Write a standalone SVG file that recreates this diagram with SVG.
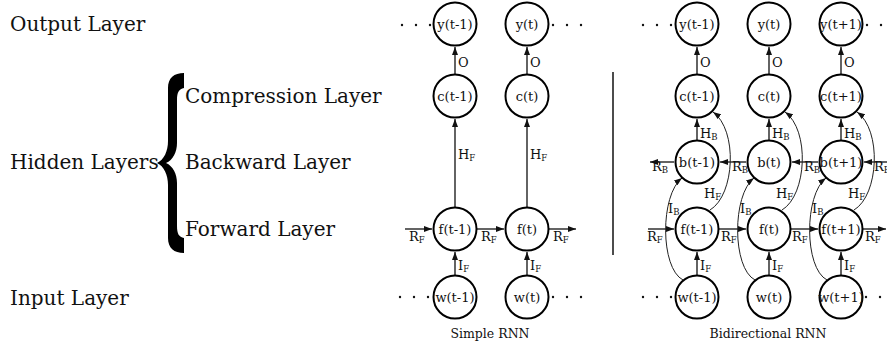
<svg xmlns="http://www.w3.org/2000/svg" width="887" height="349" viewBox="0 0 887 349">
<defs>
<marker id="ah" viewBox="0 0 8 6" refX="8" refY="3" markerWidth="8" markerHeight="6" markerUnits="userSpaceOnUse" orient="auto"><path d="M0,0 L8,3 L0,6 z" fill="#111"/></marker>
<style>
text{font-family:"DejaVu Serif",serif;fill:#111}
.big{font-size:20px}
.nd circle{fill:#fff;stroke:#000;stroke-width:2}
.nd text{font-size:13px;text-anchor:middle}
.e{stroke:#222;stroke-width:1.4;fill:none;marker-end:url(#ah)}
.cv{stroke:#222;stroke-width:1;fill:none;marker-end:url(#ah)}
.lb{font-size:13px}
.sub{font-size:8.5px}
.cap{font-size:12.5px;text-anchor:middle}
.dot{fill:#111}
</style>
</defs>
<rect width="887" height="349" fill="#fff"/>
<g id="layer-labels">
<text class="big" x="10" y="31">Output Layer</text>
<text class="big" x="185" y="103">Compression Layer</text>
<text class="big" x="10" y="169">Hidden Layers</text>
<text class="big" x="185" y="169">Backward Layer</text>
<text class="big" x="185" y="236">Forward Layer</text>
<text class="big" x="10" y="305">Input Layer</text>
<path id="brace" d="M184 73 L184 88 C179 89 177 92 177 100 L177 143 C177 152 173 160 166 163 C173 166 177 174 177 183 L177 226 C177 234 179 237 184 238 L184 253 C174 253 168 248 168 238 L168 185 C168 175 164 166 157 163 C164 160 168 151 168 141 L168 88 C168 78 174 73 184 73 Z" fill="#000"/>
</g>
<g id="connectors">
<path class="e" d="M455 74 L455 47"/>
<path class="e" d="M527 74 L527 47"/>
<path class="e" d="M455 207 L455 119"/>
<path class="e" d="M527 207 L527 119"/>
<path class="e" d="M455 275 L455 252"/>
<path class="e" d="M527 275 L527 252"/>
<path class="e" d="M405 229 L432 229"/>
<path class="e" d="M477 229 L504 229"/>
<path class="e" d="M549 229 L576 229"/>
<path class="e" d="M697 74 L697 47"/>
<path class="e" d="M769 74 L769 47"/>
<path class="e" d="M841 74 L841 47"/>
<path class="e" d="M697 140 L697 119"/>
<path class="e" d="M769 140 L769 119"/>
<path class="e" d="M841 140 L841 119"/>
<path class="e" d="M697 275 L697 252"/>
<path class="e" d="M769 275 L769 252"/>
<path class="e" d="M841 275 L841 252"/>
<path class="e" d="M648 229 L674 229"/>
<path class="e" d="M719 229 L746 229"/>
<path class="e" d="M791 229 L818 229"/>
<path class="e" d="M863 229 L886 229"/>
<path class="e" d="M674 162 L650 162"/>
<path class="e" d="M746 162 L720 162"/>
<path class="e" d="M818 162 L792 162"/>
<path class="e" d="M887 162 L864 162"/>
<path class="cv" d="M683 280 C660 268 660 195 682 178"/>
<path class="cv" d="M755 280 C732 268 732 195 754 178"/>
<path class="cv" d="M827 280 C804 268 804 195 826 178"/>
<path class="cv" d="M710 210 C735 195 738 130 713 112"/>
<path class="cv" d="M782 210 C807 195 810 130 785 112"/>
<path class="cv" d="M854 210 C879 195 882 130 857 112"/>
<line x1="613" y1="72" x2="613" y2="255" stroke="#111" stroke-width="1.5"/>
</g>
<g id="edge-labels">
<text class="lb" x="458" y="67">O</text>
<text class="lb" x="530" y="67">O</text>
<text class="lb" x="458" y="159">H<tspan class="sub" dy="2">F</tspan></text>
<text class="lb" x="530" y="159">H<tspan class="sub" dy="2">F</tspan></text>
<text class="lb" x="458" y="270">I<tspan class="sub" dy="2">F</tspan></text>
<text class="lb" x="530" y="270">I<tspan class="sub" dy="2">F</tspan></text>
<text class="lb" x="409" y="241">R<tspan class="sub" dy="2">F</tspan></text>
<text class="lb" x="481" y="241">R<tspan class="sub" dy="2">F</tspan></text>
<text class="lb" x="553" y="241">R<tspan class="sub" dy="2">F</tspan></text>
<text class="lb" x="700" y="67">O</text>
<text class="lb" x="772" y="67">O</text>
<text class="lb" x="844" y="67">O</text>
<text class="lb" x="700" y="138">H<tspan class="sub" dy="2">B</tspan></text>
<text class="lb" x="772" y="138">H<tspan class="sub" dy="2">B</tspan></text>
<text class="lb" x="844" y="138">H<tspan class="sub" dy="2">B</tspan></text>
<text class="lb" x="700" y="270">I<tspan class="sub" dy="2">F</tspan></text>
<text class="lb" x="772" y="270">I<tspan class="sub" dy="2">F</tspan></text>
<text class="lb" x="844" y="270">I<tspan class="sub" dy="2">F</tspan></text>
<text class="lb" x="647" y="241">R<tspan class="sub" dy="2">F</tspan></text>
<text class="lb" x="721" y="241">R<tspan class="sub" dy="2">F</tspan></text>
<text class="lb" x="792" y="241">R<tspan class="sub" dy="2">F</tspan></text>
<text class="lb" x="865" y="241">R<tspan class="sub" dy="2">F</tspan></text>
<text class="lb" x="652" y="171">R<tspan class="sub" dy="2">B</tspan></text>
<text class="lb" x="732" y="171">R<tspan class="sub" dy="2">B</tspan></text>
<text class="lb" x="804" y="171">R<tspan class="sub" dy="2">B</tspan></text>
<text class="lb" x="874" y="171">R<tspan class="sub" dy="2">B</tspan></text>
<text class="lb" x="668" y="213">I<tspan class="sub" dy="2">B</tspan></text>
<text class="lb" x="740" y="213">I<tspan class="sub" dy="2">B</tspan></text>
<text class="lb" x="812" y="213">I<tspan class="sub" dy="2">B</tspan></text>
<text class="lb" x="704" y="198">H<tspan class="sub" dy="2">F</tspan></text>
<text class="lb" x="776" y="198">H<tspan class="sub" dy="2">F</tspan></text>
<text class="lb" x="848" y="198">H<tspan class="sub" dy="2">F</tspan></text>
</g>
<g id="dots">
<circle class="dot" cx="402" cy="25" r="1.2"/><circle class="dot" cx="416" cy="25" r="1.2"/><circle class="dot" cx="430" cy="25" r="1.2"/>
<circle class="dot" cx="553" cy="25" r="1.2"/><circle class="dot" cx="567" cy="25" r="1.2"/><circle class="dot" cx="581" cy="25" r="1.2"/>
<circle class="dot" cx="400" cy="297" r="1.2"/><circle class="dot" cx="414" cy="297" r="1.2"/><circle class="dot" cx="428" cy="297" r="1.2"/>
<circle class="dot" cx="553" cy="297" r="1.2"/><circle class="dot" cx="567" cy="297" r="1.2"/><circle class="dot" cx="581" cy="297" r="1.2"/>
<circle class="dot" cx="643" cy="25" r="1.2"/><circle class="dot" cx="657" cy="25" r="1.2"/><circle class="dot" cx="671" cy="25" r="1.2"/>
<circle class="dot" cx="867" cy="25" r="1.2"/><circle class="dot" cx="881" cy="25" r="1.2"/>
<circle class="dot" cx="643" cy="297" r="1.2"/><circle class="dot" cx="657" cy="297" r="1.2"/><circle class="dot" cx="671" cy="297" r="1.2"/>
<circle class="dot" cx="866" cy="297" r="1.2"/><circle class="dot" cx="880" cy="297" r="1.2"/>
</g>
<g id="s-y1" class="nd"><circle cx="455" cy="24" r="21.5"/><text x="455" y="28.5">y(t-1)</text></g>
<g id="s-y2" class="nd"><circle cx="527" cy="24" r="21.5"/><text x="527" y="28.5">y(t)</text></g>
<g id="s-c1" class="nd"><circle cx="455" cy="96" r="21.5"/><text x="455" y="100.5">c(t-1)</text></g>
<g id="s-c2" class="nd"><circle cx="527" cy="96" r="21.5"/><text x="527" y="100.5">c(t)</text></g>
<g id="s-f1" class="nd"><circle cx="455" cy="229" r="21.5"/><text x="455" y="233.5">f(t-1)</text></g>
<g id="s-f2" class="nd"><circle cx="527" cy="229" r="21.5"/><text x="527" y="233.5">f(t)</text></g>
<g id="s-w1" class="nd"><circle cx="455" cy="297" r="21.5"/><text x="455" y="301.5">w(t-1)</text></g>
<g id="s-w2" class="nd"><circle cx="527" cy="297" r="21.5"/><text x="527" y="301.5">w(t)</text></g>
<g id="b-y1" class="nd"><circle cx="697" cy="24" r="21.5"/><text x="697" y="28.5">y(t-1)</text></g>
<g id="b-y2" class="nd"><circle cx="769" cy="24" r="21.5"/><text x="769" y="28.5">y(t)</text></g>
<g id="b-y3" class="nd"><circle cx="841" cy="24" r="21.5"/><text x="841" y="28.5">y(t+1)</text></g>
<g id="b-c1" class="nd"><circle cx="697" cy="96" r="21.5"/><text x="697" y="100.5">c(t-1)</text></g>
<g id="b-c2" class="nd"><circle cx="769" cy="96" r="21.5"/><text x="769" y="100.5">c(t)</text></g>
<g id="b-c3" class="nd"><circle cx="841" cy="96" r="21.5"/><text x="841" y="100.5">c(t+1)</text></g>
<g id="b-b1" class="nd"><circle cx="697" cy="162" r="21.5"/><text x="697" y="166.5">b(t-1)</text></g>
<g id="b-b2" class="nd"><circle cx="769" cy="162" r="21.5"/><text x="769" y="166.5">b(t)</text></g>
<g id="b-b3" class="nd"><circle cx="841" cy="162" r="21.5"/><text x="841" y="166.5">b(t+1)</text></g>
<g id="b-f1" class="nd"><circle cx="697" cy="229" r="21.5"/><text x="697" y="233.5">f(t-1)</text></g>
<g id="b-f2" class="nd"><circle cx="769" cy="229" r="21.5"/><text x="769" y="233.5">f(t)</text></g>
<g id="b-f3" class="nd"><circle cx="841" cy="229" r="21.5"/><text x="841" y="233.5">f(t+1)</text></g>
<g id="b-w1" class="nd"><circle cx="697" cy="297" r="21.5"/><text x="697" y="301.5">w(t-1)</text></g>
<g id="b-w2" class="nd"><circle cx="769" cy="297" r="21.5"/><text x="769" y="301.5">w(t)</text></g>
<g id="b-w3" class="nd"><circle cx="841" cy="297" r="21.5"/><text x="841" y="301.5">w(t+1)</text></g>
<g id="captions">
<text class="cap" x="490" y="338">Simple RNN</text>
<text class="cap" x="768" y="338">Bidirectional RNN</text>
</g>
</svg>
